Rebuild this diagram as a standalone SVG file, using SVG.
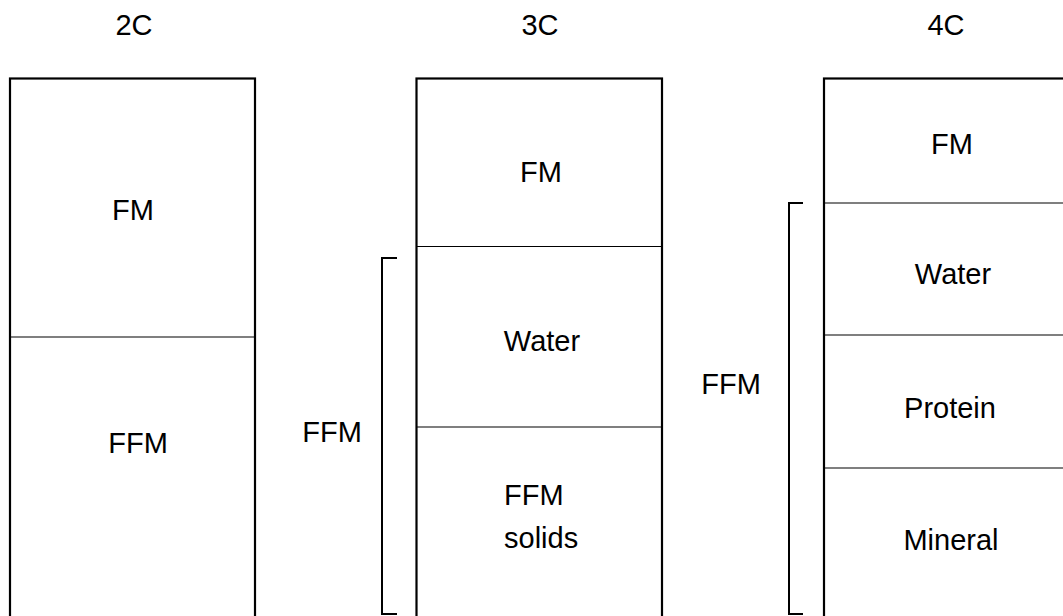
<svg xmlns="http://www.w3.org/2000/svg" width="1063" height="616" viewBox="0 0 1063 616">
<style>
.box{fill:#fff;stroke:#000;stroke-width:2.2}
.div{stroke:#000;stroke-width:1.2}
.br{fill:none;stroke:#000;stroke-width:2}
text{font-family:"Liberation Sans",Arial,sans-serif;font-size:29px;fill:#000;text-anchor:middle}
</style>
<rect width="1063" height="616" fill="#fff"/>
<g id="col2C">
<text x="134" y="35">2C</text>
<rect class="box" x="10" y="78.5" width="245" height="560"/>
<line class="div" x1="10" y1="337" x2="255" y2="337"/>
<text x="133" y="220">FM</text>
<text x="138" y="453">FFM</text>
</g>
<g id="col3C">
<text x="540" y="35">3C</text>
<rect class="box" x="416.5" y="78.5" width="245.5" height="560"/>
<line class="div" x1="416.5" y1="246.5" x2="662" y2="246.5"/>
<line class="div" x1="416.5" y1="427" x2="662" y2="427"/>
<text x="541" y="182">FM</text>
<text x="542" y="351">Water</text>
<text x="504" y="505" style="text-anchor:start">FFM</text>
<text x="504" y="548" style="text-anchor:start">solids</text>
</g>
<g id="col4C">
<text x="946" y="35">4C</text>
<rect class="box" x="824" y="78.5" width="260" height="560"/>
<line class="div" x1="824" y1="203" x2="1063" y2="203"/>
<line class="div" x1="824" y1="335" x2="1063" y2="335"/>
<line class="div" x1="824" y1="468" x2="1063" y2="468"/>
<text x="952" y="154">FM</text>
<text x="953" y="284">Water</text>
<text x="950" y="418">Protein</text>
<text x="951" y="550">Mineral</text>
</g>
<g id="connectors">
<path class="br" d="M397,258 H382 V614 H397"/>
<path class="br" d="M803,203 H789 V614 H803"/>
</g>
<g id="labels">
<text x="332" y="442">FFM</text>
<text x="731" y="394">FFM</text>
</g>
</svg>
